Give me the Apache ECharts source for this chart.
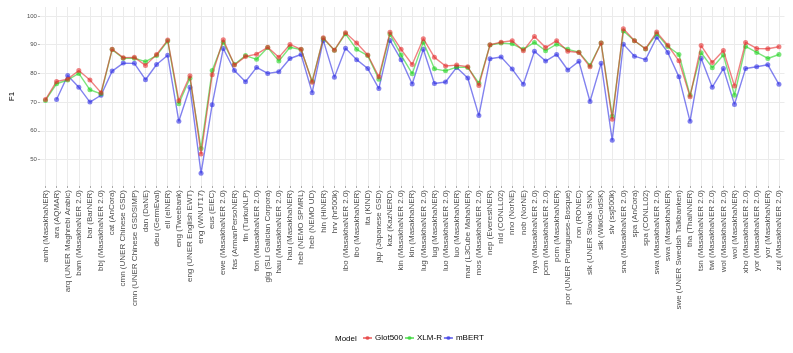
<!DOCTYPE html>
<html>
<head>
<meta charset="utf-8">
<script src="https://cdn.jsdelivr.net/npm/echarts@6.0.0/dist/echarts.min.js"></script>
<style>
	html,body{margin:0;padding:0;background:#fff;}
	#main{width:793px;height:353px;}
</style>
</head>
<body>
<div id="main"></div>
<script>
	// dataset names on the x axis
	var categories = ['amh (MasakhaNER)','ara (AQMAR)','arq (UNER Maghrebi Arabic)','bam (MasakhaNER 2.0)','bar (BarNER)',
		'bbj (MasakhaNER 2.0)','cat (AnCora)','cmn (UNER Chinese GSD)','cmn (UNER Chinese GSDSIMP)','dan (DaNE)',
		'deu (GermEval)','ell (elNER)','eng (Tweebank)','eng (UNER English EWT)','eng (WNUT17)','eus (EIEC)',
		'ewe (MasakhaNER 2.0)','fas (ArmanPersoNER)','fin (TurkuNLP)','fon (MasakhaNER 2.0)','glg (SLI Galician Corpora)',
		'hau (MasakhaNER 2.0)','hau (MasakhaNER)','heb (NEMO SPMRL)','heb (NEMO UD)','hin (HiNER)','hrv (hr500k)',
		'ibo (MasakhaNER 2.0)','ibo (MasakhaNER)','ita (KIND)','jap (Japanese GSD)','kaz (KazNERD)',
		'kin (MasakhaNER 2.0)','kin (MasakhaNER)','lug (MasakhaNER 2.0)','lug (MasakhaNER)','luo (MasakhaNER 2.0)',
		'luo (MasakhaNER)','mar (L3Cube MahaNER)','mos (MasakhaNER 2.0)','nep (EverestNER)','nld (CONLL02)',
		'nno (NorNE)','nob (NorNE)','nya (MasakhaNER 2.0)','pcm (MasakhaNER 2.0)','pcm (MasakhaNER)',
		'por (UNER Portuguese-Bosque)','ron (RONEC)','slk (UNER Slovak SNK)','slk (WikiGoldSK)','slv (ssj500k)',
		'sna (MasakhaNER 2.0)','spa (AnCora)','spa (CONLL02)','swa (MasakhaNER 2.0)','swa (MasakhaNER)',
		'swe (UNER Swedish Talkbanken)','tha (ThaiNNER)','tsn (MasakhaNER 2.0)','twi (MasakhaNER 2.0)',
		'wol (MasakhaNER 2.0)','wol (MasakhaNER)','xho (MasakhaNER 2.0)','yor (MasakhaNER 2.0)','yor (MasakhaNER)',
		'zul (MasakhaNER 2.0)'];

	var models = ['Glot500','XLM-R','mBERT'];

	var glot500 = [70.9,77.2,78.0,81.0,77.7,73.3,88.4,85.5,85.6,82.8,86.6,91.6,
		70.5,79.2,51.9,79.5,91.7,82.9,85.9,86.7,89.1,85.6,90.1,
		88.4,76.9,92.4,88.1,94.2,90.6,86.4,78.8,94.3,88.4,83.1,92.1,
		85.6,82.6,82.9,82.3,75.8,90.0,90.9,91.4,87.9,92.9,89.0,91.4,
		87.7,87.3,82.3,90.6,64.0,95.6,91.4,88.6,94.4,89.8,
		84.4,71.9,89.7,83.8,88.0,75.6,90.8,88.7,88.6,89.3];

	var xlmr = [70.6,76.4,77.7,80.0,74.3,72.9,88.3,85.3,85.3,84.1,86.2,91.3,
		69.4,78.3,53.8,81.0,90.9,83.1,86.2,84.9,89.0,84.3,89.1,
		88.3,77.3,92.2,88.1,93.8,88.4,86.2,78.0,93.7,86.4,79.9,90.9,
		81.6,80.9,82.2,82.1,76.6,89.9,90.6,90.3,88.4,90.8,87.9,90.2,
		88.4,87.4,82.8,90.6,65.1,94.8,91.4,88.5,93.8,89.4,
		86.6,72.4,87.2,82.0,86.4,72.4,89.4,87.3,85.2,86.6];

	var mbert = [null,70.9,79.3,75.2,70.0,72.4,80.8,83.6,83.5,77.8,83.1,86.3,
		63.3,75.2,45.2,69.1,88.7,81.0,77.1,82.1,80.0,80.6,85.2,
		86.6,73.3,91.5,78.7,88.8,84.8,81.7,74.7,91.5,84.8,76.3,88.4,
		76.5,77.0,82.1,78.4,65.3,85.1,85.7,81.5,76.2,87.7,84.3,86.6,
		81.2,84.2,70.2,83.5,56.7,90.2,86.0,84.8,92.6,87.3,
		78.8,63.3,85.3,75.2,81.7,69.2,81.7,82.3,83.0,76.2];

	var yTicks = [50,60,70,80,90,100];

	var colors = ['rgba(228,40,40,0.58)','rgba(30,210,30,0.58)','rgba(40,40,228,0.58)'];
	var font = 'Liberation Sans';

	function mkSeries(name,data,color,z){
		return {
			name:name,
			type:'line',
			data:data,
			z:z,
			symbol:'circle',
			symbolSize:5,
			showSymbol:true,
			connectNulls:false,
			lineStyle:{color:color,width:1.4},
			itemStyle:{color:color},
			emphasis:{disabled:true},
			animation:false
		};
	}

	var option = {
		backgroundColor:'#fff',
		animation:false,
		grid:{left:36,right:8.5,top:7,bottom:167},
		graphic:[{
			type:'text',left:335,top:334.5,
			style:{text:'Model',fontSize:8,fontFamily:font,fill:'#000'}
		}],
		legend:{
			data:models,
			left:362,top:334,padding:0,
			itemWidth:9,itemHeight:5,itemGap:1,
			textStyle:{fontSize:8,fontFamily:font,color:'#000',padding:[0,0,0,-2]}
		},
		xAxis:{
			type:'category',
			data:categories,
			boundaryGap:true,
			axisLine:{show:false},
			axisTick:{show:true,alignWithLabel:true,length:2,lineStyle:{color:'#aaa'}},
			axisLabel:{interval:0,rotate:90,margin:4,fontSize:8,fontFamily:font,color:'#4d4d4d'},
			splitLine:{show:true,alignWithLabel:true,interval:0,lineStyle:{color:'#ebebeb',width:1}}
		},
		yAxis:{
			type:'value',
			min:40.77,max:103.14,
			name:'F1',
			nameLocation:'middle',
			nameGap:22,
			nameTextStyle:{fontSize:8,fontFamily:font,color:'#000'},
			axisLine:{show:false},
			axisTick:{show:true,length:2,customValues:yTicks,lineStyle:{color:'#aaa'}},
			axisLabel:{margin:3,fontSize:6,fontFamily:font,color:'#4d4d4d',customValues:yTicks},
			splitLine:{show:true,lineStyle:{color:'#ebebeb',width:1}}
		},
		series:[
			mkSeries(models[0],glot500,colors[0],4),
			mkSeries(models[1],xlmr,colors[1],3),
			mkSeries(models[2],mbert,colors[2],2)
		]
	};

	var myChart = echarts.init(document.getElementById('main'),null,{renderer:'canvas'});
	myChart.setOption(option);
</script>
</body>
</html>
